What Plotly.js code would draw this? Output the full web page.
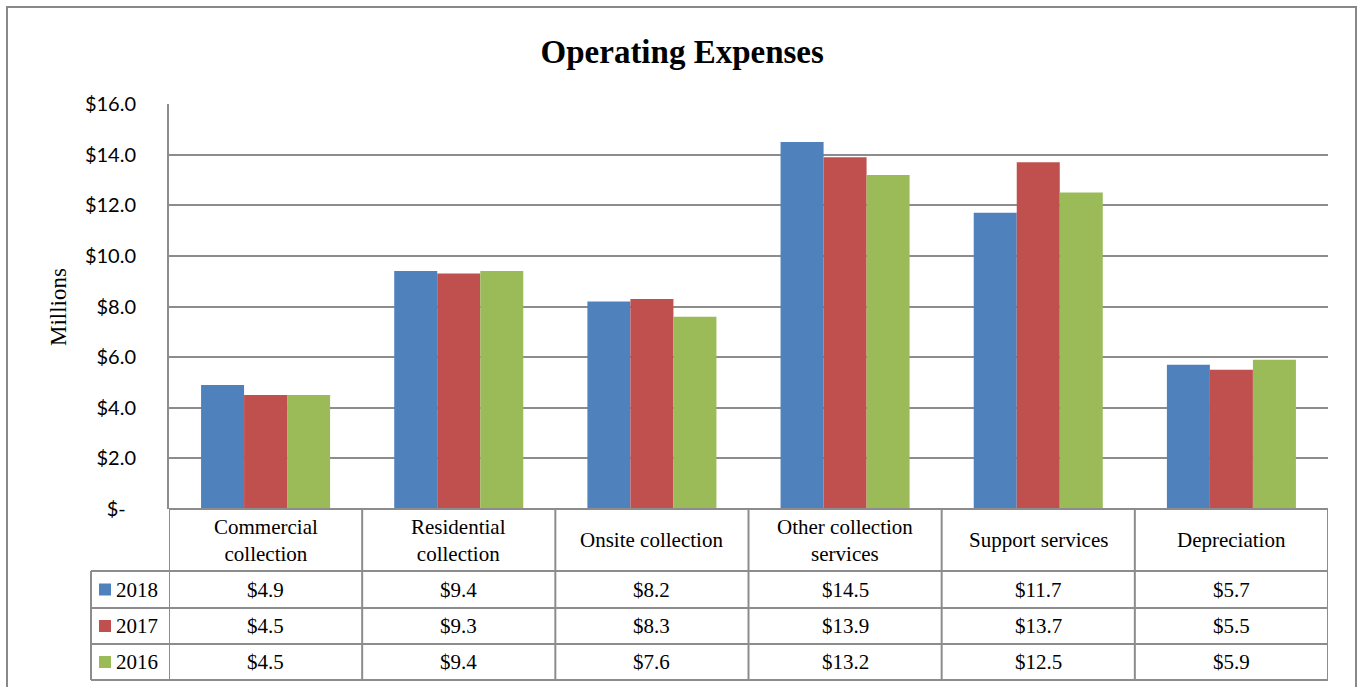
<!DOCTYPE html>
<html>
<head>
<meta charset="utf-8">
<script src="https://cdn.plot.ly/plotly-3.0.1.min.js"></script>
<style>html,body{margin:0;padding:0;background:#fff;}#chart{width:1359px;height:687px;}</style>
</head>
<body>
<div id="chart"></div>
<script>
const categories = ["Commercial collection", "Residential collection", "Onsite collection", "Other collection services", "Support services", "Depreciation"];
const categoryLabels = ["Commercial<br>collection", "Residential<br>collection", "Onsite collection", "Other collection<br>services", "Support services", "Depreciation"];
const seriesNames = ["2018", "2017", "2016"];
const values2018 = [4.9, 9.4, 8.2, 14.5, 11.7, 5.7];
const values2017 = [4.5, 9.3, 8.3, 13.9, 13.7, 5.5];
const values2016 = [4.5, 9.4, 7.6, 13.2, 12.5, 5.9];
const tickValues = [0, 2, 4, 6, 8, 10, 12, 14, 16];
const tickLabels = ["$-\u00a0\u00a0", "$2.0", "$4.0", "$6.0", "$8.0", "$10.0", "$12.0", "$14.0", "$16.0"];
const colors = ["#4F81BD", "#C0504D", "#9BBB59"];

const allValues = [values2018, values2017, values2016];

const W = 1359, H = 687, L = 169, R = 1328, T = 104, B = 509;
const px = p => (p - L) / (R - L);
const py = p => (B - p) / (B - T);
const gridColor = "#8c8c8c";
const serif = "Liberation Serif, serif";

const traces = allValues.map((vals, i) => ({
  type: "bar",
  name: seriesNames[i],
  x: categories,
  y: vals,
  marker: {color: colors[i], line: {width: 0}},
  hoverinfo: "skip"
}));

const shapes = [];
const annotations = [];

// outer border
shapes.push({type: "rect", xref: "paper", yref: "paper", x0: px(7), x1: px(1356), y0: py(7), y1: py(700), line: {color: "#888888", width: 2}, layer: "above"});

// table horizontal lines
shapes.push({type: "line", xref: "x", yref: "paper", x0: -0.5, x1: 5.5, y0: py(509), y1: py(509), line: {color: gridColor, width: 2}});
[571, 608, 644, 680].forEach(y => {
  shapes.push({type: "line", xref: "paper", yref: "paper", x0: px(91), x1: px(1328), y0: py(y), y1: py(y), line: {color: gridColor, width: 2}});
});
// vertical lines
for (let i = 0; i <= categories.length; i++) {
  shapes.push({type: "line", xref: "x", yref: "paper", x0: i - 0.5, x1: i - 0.5, y0: py(509), y1: py(680), line: {color: gridColor, width: 2}});
}
shapes.push({type: "line", xref: "paper", yref: "paper", x0: px(91), x1: px(91), y0: py(571), y1: py(680), line: {color: gridColor, width: 2}});

const cellFont = {family: serif, size: 21, color: "#000"};
// category labels
categories.forEach((c, i) => {
  annotations.push({xref: "x", yref: "paper", x: c, y: py(540), text: categoryLabels[i], showarrow: false, xanchor: "center", yanchor: "middle", font: cellFont});
});
const rowCenters = [589.5, 626, 662];
allValues.forEach((vals, r) => {
  vals.forEach((v, i) => {
    annotations.push({xref: "x", yref: "paper", x: categories[i], y: py(rowCenters[r]), text: "$" + v.toFixed(1), showarrow: false, xanchor: "center", yanchor: "middle", font: cellFont});
  });
  shapes.push({type: "rect", xref: "paper", yref: "paper", x0: px(99), x1: px(111), y0: py(rowCenters[r] - 6), y1: py(rowCenters[r] + 6), fillcolor: colors[r], line: {width: 0}});
  annotations.push({xref: "paper", yref: "paper", x: px(114), y: py(rowCenters[r]), text: seriesNames[r], showarrow: false, xanchor: "left", yanchor: "middle", font: cellFont});
});

// y axis title
annotations.push({xref: "paper", yref: "paper", x: px(58), y: py(307), text: "Millions", textangle: -90, showarrow: false, xanchor: "center", yanchor: "middle", font: {family: serif, size: 23, color: "#000"}});

const layout = {
  width: W, height: H,
  margin: {l: L, r: W - R, t: T, b: H - B, pad: 0},
  paper_bgcolor: "#fff", plot_bgcolor: "#fff",
  showlegend: false,
  barmode: "group",
  bargap: 0.332,
  bargroupgap: 0,
  title: {text: "<b>Operating Expenses</b>", x: 0.502, xref: "container", y: 1 - 51 / H, yref: "container", yanchor: "middle", font: {family: serif, size: 33, color: "#000"}},
  xaxis: {type: "category", range: [-0.5, 5.5], showticklabels: false, showgrid: false, zeroline: false, showline: false, ticks: "", fixedrange: true},
  yaxis: {range: [0, 16], tickvals: tickValues, ticktext: tickLabels, showgrid: true, gridcolor: gridColor, gridwidth: 2, zeroline: false, showline: true, linecolor: gridColor, linewidth: 2, ticks: "", ticklabelstandoff: 27, tickfont: {family: "Lato, sans-serif", size: 20, color: "#000"}, fixedrange: true},
  shapes: shapes,
  annotations: annotations
};

Plotly.newPlot("chart", traces, layout, {displayModeBar: false, staticPlot: true});
</script>
</body>
</html>
